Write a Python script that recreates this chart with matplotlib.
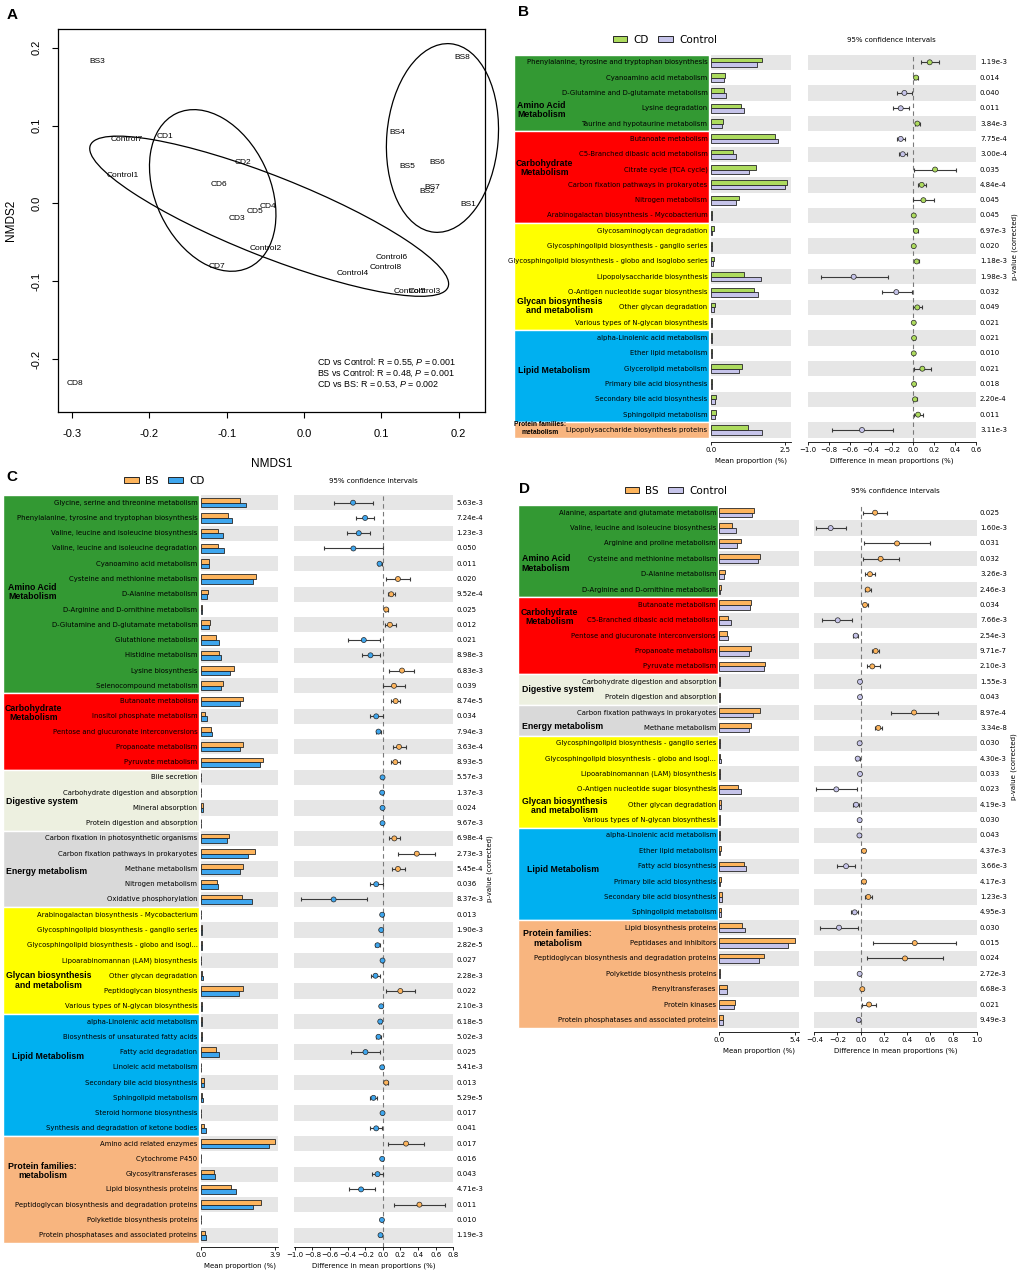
import numpy as np
import matplotlib
matplotlib.use("Agg")
import matplotlib.pyplot as plt
from matplotlib.patches import Ellipse, Rectangle, Patch
from matplotlib.transforms import blended_transform_factory

# ---------------- Panel A: NMDS ----------------
nmds_samples = ['BS1', 'BS2', 'BS3', 'BS4', 'BS5', 'BS6', 'BS7', 'BS8',
                'CD1', 'CD2', 'CD3', 'CD4', 'CD5', 'CD6', 'CD7', 'CD8',
                'Control1', 'Control2', 'Control3', 'Control4',
                'Control5', 'Control6', 'Control7', 'Control8']
nmds1 = [0.213, 0.159, -0.267, 0.120, 0.133, 0.172, 0.166, 0.205,
         -0.180, -0.079, -0.087, -0.047, -0.063, -0.110, -0.112, -0.296,
         -0.234, -0.049, 0.156, 0.063, 0.137, 0.113, -0.229, 0.106]
nmds2 = [-0.001, 0.0155, 0.182, 0.091, 0.048, 0.052, 0.021, 0.188,
         0.086, 0.052, -0.019, -0.004, -0.011, 0.024, -0.081, -0.231,
         0.036, -0.0575, -0.113, -0.0905, -0.113, -0.070, 0.0815, -0.083]
ellipse_groups = ['CD', 'Control', 'BS']
ellipse_cx = [-0.118, -0.045, 0.179]
ellipse_cy = [0.0166, -0.0165, 0.084]
ellipse_major = [0.219, 0.497, 0.243]
ellipse_minor = [0.148, 0.103, 0.144]
ellipse_angle = [-64.5, -21.5, 85.1]
anosim_text = ['CD vs Control: R = 0.55, $\\it{P}$ = 0.001',
               'BS vs Control: R = 0.48, $\\it{P}$ = 0.001',
               'CD vs BS: R = 0.53, $\\it{P}$ = 0.002']

# ---------------- Panel B: CD vs Control ----------------
b_features = ['Phenylalanine, tyrosine and tryptophan biosynthesis',
              'Cyanoamino acid metabolism',
              'D-Glutamine and D-glutamate metabolism',
              'Lysine degradation',
              'Taurine and hypotaurine metabolism',
              'Butanoate metabolism',
              'C5-Branched dibasic acid metabolism',
              'Citrate cycle (TCA cycle)',
              'Carbon fixation pathways in prokaryotes',
              'Nitrogen metabolism',
              'Arabinogalactan biosynthesis - Mycobacterium',
              'Glycosaminoglycan degradation',
              'Glycosphingolipid biosynthesis - ganglio series',
              'Glycosphingolipid biosynthesis - globo and isoglobo series',
              'Lipopolysaccharide biosynthesis',
              'O-Antigen nucleotide sugar biosynthesis',
              'Other glycan degradation',
              'Various types of N-glycan biosynthesis',
              'alpha-Linolenic acid metabolism',
              'Ether lipid metabolism',
              'Glycerolipid metabolism',
              'Primary bile acid biosynthesis',
              'Secondary bile acid biosynthesis',
              'Sphingolipid metabolism',
              'Lipopolysaccharide biosynthesis proteins']
b_cd = [1.70, 0.47, 0.43, 1.00, 0.41, 2.14, 0.73, 1.51, 2.56, 0.94, 0.03, 0.09, 0.02,
        0.10, 1.12, 1.45, 0.13, 0.02, 0.04, 0.02, 1.04, 0.03, 0.17, 0.16, 1.23]
b_control = [1.54, 0.43, 0.52, 1.12, 0.37, 2.24, 0.83, 1.29, 2.48, 0.84, 0.03, 0.05, 0.02,
             0.06, 1.69, 1.59, 0.09, 0.02, 0.03, 0.02, 0.94, 0.03, 0.15, 0.12, 1.72]
b_diff = [0.162, 0.032, -0.079, -0.114, 0.044, -0.114, -0.095, 0.213, 0.086, 0.102, 0.010,
          0.032, 0.010, 0.038, -0.562, -0.156, 0.044, 0.010, 0.013, 0.010, 0.092, 0.013,
          0.022, 0.051, -0.483]
b_ci_low = [0.076, 0.013, -0.152, -0.190, 0.022, -0.152, -0.133, 0.016, 0.050, 0.002, 0.005,
            0.016, 0.005, 0.019, -0.876, -0.289, 0.000, 0.005, 0.006, 0.005, 0.016, 0.006,
            0.010, 0.013, -0.768]
b_ci_high = [0.248, 0.054, -0.006, -0.035, 0.070, -0.070, -0.057, 0.410, 0.127, 0.206, 0.016,
             0.054, 0.016, 0.060, -0.238, -0.010, 0.092, 0.016, 0.020, 0.016, 0.171, 0.020,
             0.038, 0.100, -0.190]
b_pvalues = ['1.19e-3', '0.014', '0.040', '0.011', '3.84e-3', '7.75e-4', '3.00e-4', '0.035',
             '4.84e-4', '0.045', '0.045', '6.97e-3', '0.020', '1.18e-3', '1.98e-3', '0.032',
             '0.049', '0.021', '0.021', '0.010', '0.021', '0.018', '2.20e-4', '0.011', '3.11e-3']
b_categories = ['amino', 'carbo', 'glycan', 'lipid', 'protein']
b_category_sizes = [5, 6, 7, 6, 1]

# ---------------- Panel C: BS vs CD ----------------
c_features = ['Glycine, serine and threonine metabolism',
              'Phenylalanine, tyrosine and tryptophan biosynthesis',
              'Valine, leucine and isoleucine biosynthesis',
              'Valine, leucine and isoleucine degradation',
              'Cyanoamino acid metabolism',
              'Cysteine and methionine metabolism',
              'D-Alanine metabolism',
              'D-Arginine and D-ornithine metabolism',
              'D-Glutamine and D-glutamate metabolism',
              'Glutathione metabolism',
              'Histidine metabolism',
              'Lysine biosynthesis',
              'Selenocompound metabolism',
              'Butanoate metabolism',
              'Inositol phosphate metabolism',
              'Pentose and glucuronate interconversions',
              'Propanoate metabolism',
              'Pyruvate metabolism',
              'Bile secretion',
              'Carbohydrate digestion and absorption',
              'Mineral absorption',
              'Protein digestion and absorption',
              'Carbon fixation in photosynthetic organisms',
              'Carbon fixation pathways in prokaryotes',
              'Methane metabolism',
              'Nitrogen metabolism',
              'Oxidative phosphorylation',
              'Arabinogalactan biosynthesis - Mycobacterium',
              'Glycosphingolipid biosynthesis - ganglio series',
              'Glycosphingolipid biosynthesis - globo and isogl...',
              'Lipoarabinomannan (LAM) biosynthesis',
              'Other glycan degradation',
              'Peptidoglycan biosynthesis',
              'Various types of N-glycan biosynthesis',
              'alpha-Linolenic acid metabolism',
              'Biosynthesis of unsaturated fatty acids',
              'Fatty acid degradation',
              'Linoleic acid metabolism',
              'Secondary bile acid biosynthesis',
              'Sphingolipid metabolism',
              'Steroid hormone biosynthesis',
              'Synthesis and degradation of ketone bodies',
              'Amino acid related enzymes',
              'Cytochrome P450',
              'Glycosyltransferases',
              'Lipid biosynthesis proteins',
              'Peptidoglycan biosynthesis and degradation proteins',
              'Polyketide biosynthesis proteins',
              'Protein phosphatases and associated proteins']
c_bs = [2.03, 1.43, 0.87, 0.91, 0.40, 2.89, 0.38, 0.07, 0.49, 0.77, 0.93, 1.75, 1.17,
        2.22, 0.23, 0.54, 2.22, 3.24,
        0.02, 0.02, 0.12, 0.02,
        1.49, 2.85, 2.22, 0.82, 2.15,
        0.02, 0.03, 0.05, 0.02, 0.05, 2.22, 0.03,
        0.035, 0.035, 0.77, 0.02, 0.17, 0.035, 0.02, 0.17,
        3.87, 0.02, 0.66, 1.59, 3.17, 0.02, 0.23]
c_cd = [2.38, 1.64, 1.14, 1.22, 0.44, 2.71, 0.30, 0.05, 0.40, 0.96, 1.07, 1.52, 1.03,
        2.06, 0.30, 0.59, 2.03, 3.10,
        0.02, 0.02, 0.12, 0.02,
        1.36, 2.48, 2.03, 0.89, 2.69,
        0.02, 0.03, 0.07, 0.02, 0.10, 2.01, 0.03,
        0.05, 0.07, 0.96, 0.02, 0.14, 0.12, 0.02, 0.24,
        3.59, 0.02, 0.72, 1.82, 2.75, 0.02, 0.26]
c_diff = [-0.339, -0.202, -0.274, -0.335, -0.038, 0.171, 0.095, 0.038, 0.080, -0.217, -0.141, 0.217, 0.126,
          0.145, -0.076, -0.050, 0.183, 0.141,
          -0.004, -0.008, -0.004, -0.004,
          0.130, 0.385, 0.171, -0.076, -0.560,
          -0.008, -0.019, -0.061, -0.004, -0.084, 0.198, -0.019,
          -0.030, -0.050, -0.198, -0.008, 0.038, -0.107, -0.004, -0.076,
          0.263, -0.008, -0.061, -0.248, 0.415, -0.011, -0.027]
c_ci_low = [-0.560, -0.300, -0.404, -0.670, -0.061, 0.038, 0.061, 0.019, 0.023, -0.396, -0.236, 0.069, 0.004,
            0.095, -0.149, -0.080, 0.110, 0.088,
            -0.008, -0.012, -0.008, -0.008,
            0.065, 0.175, 0.099, -0.149, -0.933,
            -0.012, -0.025, -0.084, -0.008, -0.133, 0.038, -0.025,
            -0.042, -0.076, -0.366, -0.012, 0.019, -0.141, -0.008, -0.141,
            0.061, -0.012, -0.122, -0.389, 0.126, -0.016, -0.046]
c_ci_high = [-0.118, -0.103, -0.141, -0.002, -0.015, 0.305, 0.141, 0.057, 0.145, -0.038, -0.038, 0.354, 0.248,
             0.194, -0.004, -0.019, 0.259, 0.190,
             0.000, -0.004, 0.000, 0.000,
             0.194, 0.594, 0.251, -0.004, -0.179,
             -0.004, -0.013, -0.038, 0.000, -0.034, 0.362, -0.013,
             -0.019, -0.023, -0.030, -0.004, 0.057, -0.072, 0.000, -0.011,
             0.469, -0.004, -0.004, -0.095, 0.705, -0.006, -0.008]
c_pvalues = ['5.63e-3', '7.24e-4', '1.23e-3', '0.050', '0.011', '0.020', '9.52e-4', '0.025',
             '0.012', '0.021', '8.98e-3', '6.83e-3', '0.039', '8.74e-5', '0.034', '7.94e-3',
             '3.63e-4', '8.93e-5', '5.57e-3', '1.37e-3', '0.024', '9.67e-3', '6.98e-4',
             '2.73e-3', '5.45e-4', '0.036', '8.37e-3', '0.013', '1.90e-3', '2.82e-5', '0.027',
             '2.28e-3', '0.022', '2.10e-3', '6.18e-5', '5.02e-3', '0.025', '5.41e-3', '0.013',
             '5.29e-5', '0.017', '0.041', '0.017', '0.016', '0.043', '4.71e-3', '0.011',
             '0.010', '1.19e-3']
c_categories = ['amino', 'carbo', 'digestive', 'energy', 'glycan', 'lipid', 'protein']
c_category_sizes = [13, 5, 4, 5, 7, 8, 7]

# ---------------- Panel D: BS vs Control ----------------
d_features = ['Alanine, aspartate and glutamate metabolism',
              'Valine, leucine and isoleucine biosynthesis',
              'Arginine and proline metabolism',
              'Cysteine and methionine metabolism',
              'D-Alanine metabolism',
              'D-Arginine and D-ornithine metabolism',
              'Butanoate metabolism',
              'C5-Branched dibasic acid metabolism',
              'Pentose and glucuronate interconversions',
              'Propanoate metabolism',
              'Pyruvate metabolism',
              'Carbohydrate digestion and absorption',
              'Protein digestion and absorption',
              'Carbon fixation pathways in prokaryotes',
              'Methane metabolism',
              'Glycosphingolipid biosynthesis - ganglio series',
              'Glycosphingolipid biosynthesis - globo and isogl...',
              'Lipoarabinomannan (LAM) biosynthesis',
              'O-Antigen nucleotide sugar biosynthesis',
              'Other glycan degradation',
              'Various types of N-glycan biosynthesis',
              'alpha-Linolenic acid metabolism',
              'Ether lipid metabolism',
              'Fatty acid biosynthesis',
              'Primary bile acid biosynthesis',
              'Secondary bile acid biosynthesis',
              'Sphingolipid metabolism',
              'Lipid biosynthesis proteins',
              'Peptidases and inhibitors',
              'Peptidoglycan biosynthesis and degradation proteins',
              'Polyketide biosynthesis proteins',
              'Prenyltransferases',
              'Protein kinases',
              'Protein phosphatases and associated proteins']
d_bs = [2.45, 0.93, 1.55, 2.90, 0.43, 0.12,
        2.24, 0.64, 0.57, 2.26, 3.28,
        0.05, 0.05,
        2.90, 2.24,
        0.07, 0.07, 0.05, 1.36, 0.10, 0.05,
        0.05, 0.10, 1.78, 0.10, 0.21, 0.12,
        1.64, 5.40, 3.21, 0.05, 0.57, 1.09, 0.29]
d_control = [2.31, 1.19, 1.26, 2.74, 0.36, 0.07,
             2.19, 0.81, 0.64, 2.14, 3.19,
             0.05, 0.05,
             2.43, 2.09,
             0.07, 0.09, 0.05, 1.57, 0.12, 0.05,
             0.05, 0.07, 1.93, 0.07, 0.17, 0.14,
             1.81, 4.92, 2.81, 0.05, 0.55, 1.02, 0.29]
d_diff = [0.124, -0.259, 0.313, 0.172, 0.080, 0.060,
          0.037, -0.198, -0.043, 0.129, 0.100,
          -0.006, -0.006,
          0.460, 0.152,
          -0.009, -0.026, -0.006, -0.210, -0.040, -0.009,
          -0.011, 0.029, -0.126, 0.029, 0.066, -0.052,
          -0.187, 0.466, 0.382, -0.009, 0.014, 0.072, -0.017]
d_ci_low = [0.017, -0.382, 0.032, 0.017, 0.040, 0.034,
            0.017, -0.330, -0.063, 0.100, 0.052,
            -0.010, -0.010,
            0.261, 0.126,
            -0.013, -0.037, -0.010, -0.388, -0.063, -0.013,
            -0.016, 0.020, -0.201, 0.020, 0.034, -0.080,
            -0.350, 0.109, 0.055, -0.013, 0.006, 0.011, -0.026]
d_ci_high = [0.227, -0.124, 0.598, 0.328, 0.126, 0.089,
             0.060, -0.072, -0.023, 0.158, 0.167,
             -0.002, -0.002,
             0.664, 0.184,
             -0.005, -0.009, -0.002, -0.034, -0.017, -0.005,
             -0.006, 0.038, -0.049, 0.038, 0.100, -0.023,
             -0.020, 0.822, 0.710, -0.005, 0.022, 0.132, -0.008]
d_pvalues = ['0.025', '1.60e-3', '0.031', '0.032', '3.26e-3', '2.46e-3', '0.034', '7.66e-3',
             '2.54e-3', '9.71e-7', '2.10e-3', '1.55e-3', '0.043', '8.97e-4', '3.34e-8',
             '0.030', '4.30e-3', '0.033', '0.023', '4.19e-3', '0.030', '0.043', '4.37e-3',
             '3.66e-3', '4.17e-3', '1.23e-3', '4.95e-3', '0.030', '0.015', '0.024',
             '2.72e-3', '6.68e-3', '0.021', '9.49e-3']
d_categories = ['amino', 'carbo', 'digestive', 'energy', 'glycan', 'lipid', 'protein']
d_category_sizes = [6, 5, 2, 2, 6, 6, 7]

# ---------------- styling ----------------
W, H = 1020, 1274
CAT_COLORS = {'amino': '#339933', 'carbo': '#ff0000', 'digestive': '#edf0e0',
              'energy': '#d9d9d9', 'glycan': '#ffff00', 'lipid': '#00b0f0',
              'protein': '#f8b57f'}
CAT_TITLES = {'amino': 'Amino Acid\nMetabolism', 'carbo': 'Carbohydrate\nMetabolism',
              'digestive': 'Digestive system', 'energy': 'Energy metabolism',
              'glycan': 'Glycan biosynthesis\nand metabolism', 'lipid': 'Lipid Metabolism',
              'protein': 'Protein families:\nmetabolism'}
GREEN, LAVENDER, ORANGE, BLUE = '#addb5e', '#c6c4ea', '#fdb45c', '#3ea6ee'
BAND = '#e6e6e6'
EDGE = '#262626'
BOLD_FONT = 'Liberation Sans'
ROW_FONT = 4.95

plt.rcParams['font.family'] = 'DejaVu Sans'
plt.rcParams['mathtext.fontset'] = 'custom'
plt.rcParams['mathtext.rm'] = 'Liberation Sans'
plt.rcParams['mathtext.it'] = 'Liberation Sans:italic'

fig = plt.figure(figsize=(W / 100, H / 100), dpi=100)


def px_axes(left, top, right, bottom):
    return fig.add_axes([left / W, 1 - bottom / H, (right - left) / W, (bottom - top) / H])


# ---------------- draw panel A ----------------
axa = px_axes(58, 29, 485, 412)
for g, cx, cy, w, h, ang in zip(ellipse_groups, ellipse_cx, ellipse_cy,
                                ellipse_major, ellipse_minor, ellipse_angle):
    axa.add_patch(Ellipse((cx, cy), w, h, angle=ang, fill=False, edgecolor='black',
                          lw=0.9, clip_on=False))
for name, x, y in zip(nmds_samples, nmds1, nmds2):
    axa.text(x, y, name, ha='center', va='center', fontsize=6, family=BOLD_FONT)
for i, t in enumerate(anosim_text):
    axa.text(0.606, 0.131 - i * 0.0295, t, transform=axa.transAxes, ha='left', va='center',
             fontsize=6.4, family=BOLD_FONT)
axa.set_xlim(-0.318, 0.234)
axa.set_ylim(-0.268, 0.224)
xt = np.round(np.arange(-0.3, 0.21, 0.1), 1)
yt = np.round(np.arange(-0.2, 0.21, 0.1), 1)
axa.set_xticks(xt)
axa.set_xticklabels(['%.1f' % v for v in xt], family=BOLD_FONT, fontsize=8)
axa.set_yticks(yt)
axa.set_yticklabels(['%.1f' % v for v in yt], family=BOLD_FONT, fontsize=8,
                    rotation=90, va='center')
axa.tick_params(length=4, width=0.8, pad=8)
for s in axa.spines.values():
    s.set_linewidth(0.9)
axa.set_xlabel('NMDS1', family=BOLD_FONT, fontsize=8.5, labelpad=14)
axa.set_ylabel('NMDS2', family=BOLD_FONT, fontsize=8.5, labelpad=10)
fig.text(12.5 / W, 1 - 15 / H, 'A', fontsize=11, fontweight='bold', family=BOLD_FONT,
         ha='center', va='center')


# ---------------- STAMP-like panels ----------------
def stamp_panel(feats, g1, g2, diff, lo, hi, pvals, cats, sizes, names, colors, lay):
    n = len(feats)
    rows = np.arange(1, n + 1)
    diff, lo, hi = np.array(diff), np.array(lo), np.array(hi)
    dy = lay['dy']
    gap = 4.0
    top = lay['row1'] - dy / 2
    bottom = lay['row1'] + (n - 0.5) * dy + gap
    ylim = (n + 0.5 + gap / dy, 0.5)
    shaded = [r for r in rows if (n - r) % 2 == 0]

    # category column with feature names
    cl, cr = lay['cat']
    axc = px_axes(cl, top, cr, bottom)
    axc.set_xlim(cl, cr)
    axc.set_ylim(ylim)
    axc.axis('off')
    start = 1
    for c, size in zip(cats, sizes):
        axc.add_patch(Rectangle((cl, start - 0.5), cr - cl, size, facecolor=CAT_COLORS[c],
                                edgecolor='white', lw=1.0))
        start += size
    for r, f in zip(rows, feats):
        axc.text(cr - 1.5, r, f, ha='right', va='center', fontsize=ROW_FONT)
    for c, (lx, lr, fs) in zip(cats, lay['cat_labels']):
        axc.text(lx, lr, CAT_TITLES[c], ha='left', va='center', multialignment='center',
                 fontsize=fs, fontweight='bold', family=BOLD_FONT, linespacing=1.05)

    # mean proportion bars
    axb = px_axes(lay['bar'][0], top, lay['bar'][1], bottom)
    for r in shaded:
        axb.axhspan(r - 0.5, r + 0.5, color=BAND, lw=0, zorder=0)
    axb.barh(rows - 0.15, g1, height=0.3, color=colors[0], edgecolor=EDGE, lw=0.6, zorder=2)
    axb.barh(rows + 0.15, g2, height=0.3, color=colors[1], edgecolor=EDGE, lw=0.6, zorder=2)
    axb.set_xlim(0, lay['bar_max'])
    axb.set_ylim(ylim)
    axb.set_xticks([0, lay['bar_tick']])
    axb.set_xticklabels(['0.0', '%.1f' % lay['bar_tick']])
    axb.set_yticks([])
    axb.set_xlabel('Mean proportion (%)', fontsize=5, labelpad=3)

    # difference with confidence intervals
    axd = px_axes(lay['diff'][0], top, lay['diff'][1], bottom)
    for r in shaded:
        axd.axhspan(r - 0.5, r + 0.5, color=BAND, lw=0, zorder=0)
    axd.axvline(0, color='#7a7a7a', ls=(0, (4, 3)), lw=0.8, zorder=1)
    axd.errorbar(diff, rows, xerr=[diff - lo, hi - diff], fmt='none', ecolor='#3a3a3a',
                 elinewidth=0.8, capsize=1.6, capthick=0.8, zorder=2)
    mcol = [colors[0] if d > 0 else colors[1] for d in diff]
    axd.scatter(diff, rows, s=13, c=mcol, edgecolors=EDGE, linewidths=0.5, zorder=3)
    axd.set_xlim(lay['diff_lim'])
    axd.set_ylim(ylim)
    axd.set_xticks(np.round(np.arange(lay['diff_ticks'][0], lay['diff_ticks'][1] + 0.01, 0.2), 1))
    axd.set_yticks([])
    axd.set_xlabel('Difference in mean proportions (%)', fontsize=5, labelpad=3)
    axd.annotate('95% confidence intervals', xy=(0.5, 1), xycoords='axes fraction',
                 xytext=(0, 10.4), textcoords='offset points', ha='center', va='center',
                 fontsize=5)

    for ax in (axb, axd):
        for s in ('left', 'right', 'top'):
            ax.spines[s].set_visible(False)
        ax.spines['bottom'].set_linewidth(0.6)
        ax.tick_params(axis='x', labelsize=5, length=2.5, width=0.6, pad=1.5)

    width = lay['diff'][1] - lay['diff'][0]
    trans = blended_transform_factory(axd.transAxes, axd.transData)
    xp = 1 + (lay['p_x'] - lay['diff'][1]) / width
    for r, p in zip(rows, pvals):
        axd.text(xp, r, p, transform=trans, ha='left', va='center', fontsize=5)
    axd.text(1 + (lay['pv_x'] - lay['diff'][1]) / width, (n + 1) / 2, 'p-value (corrected)',
             transform=trans, rotation=90, ha='center', va='center', fontsize=5)

    handles = [Patch(facecolor=c, edgecolor=EDGE, lw=0.7) for c in colors]
    fig.legend(handles, names, loc='center',
               bbox_to_anchor=(lay['legend'][0] / W, 1 - lay['legend'][1] / H),
               ncol=2, frameon=False, fontsize=7.5, handlelength=1.4, handleheight=0.45,
               handletextpad=0.6, columnspacing=0.9, borderaxespad=0, borderpad=0)
    fig.text(lay['letter'][0] / W, 1 - lay['letter'][1] / H, lay['letter'][2], fontsize=11,
             fontweight='bold', family=BOLD_FONT, ha='center', va='center')


layout_b = dict(row1=62.3, dy=15.32, cat=(514, 709), bar=(711, 791), bar_max=2.69,
                bar_tick=2.5, diff=(807.7, 975.7), diff_lim=(-1.0, 0.6),
                diff_ticks=(-1.0, 0.6), p_x=980, pv_x=1015, legend=(665, 40),
                letter=(524, 12, 'B'),
                cat_labels=[(517, 4.1, 6.3), (516, 7.9, 6.3), (517, 16.9, 6.3),
                            (518, 21.1, 6.3), (514, 24.9, 4.8)])
layout_c = dict(row1=502.7, dy=15.26, cat=(3, 199), bar=(201, 278.3), bar_max=4.06,
                bar_tick=3.9, diff=(294, 453.3), diff_lim=(-1.01, 0.8),
                diff_ticks=(-1.0, 0.8), p_x=456.7, pv_x=490, legend=(164.5, 481),
                letter=(12, 477, 'C'),
                cat_labels=[(8, 6.85, 6.3), (5, 14.76, 6.3), (6, 20.6, 6.3), (6, 25.2, 6.3),
                            (6, 32.3, 6.3), (12, 37.3, 6.3), (8, 44.8, 6.3)])
layout_d = dict(row1=512.7, dy=15.37, cat=(518.3, 717.7), bar=(719.3, 798.7), bar_max=5.66,
                bar_tick=5.4, diff=(814.3, 976.7), diff_lim=(-0.4, 1.0),
                diff_ticks=(-0.4, 1.0), p_x=980, pv_x=1014, legend=(676, 490.7),
                letter=(524.5, 489.5, 'D'),
                cat_labels=[(521.7, 4.3, 6.3), (521, 7.8, 6.3), (522, 12.5, 6.3),
                            (522, 14.9, 6.3), (522, 20.1, 6.3), (527, 24.2, 6.3),
                            (523, 28.7, 6.3)])

stamp_panel(b_features, b_cd, b_control, b_diff, b_ci_low, b_ci_high, b_pvalues,
            b_categories, b_category_sizes, ['CD', 'Control'], [GREEN, LAVENDER], layout_b)
stamp_panel(c_features, c_bs, c_cd, c_diff, c_ci_low, c_ci_high, c_pvalues,
            c_categories, c_category_sizes, ['BS', 'CD'], [ORANGE, BLUE], layout_c)
stamp_panel(d_features, d_bs, d_control, d_diff, d_ci_low, d_ci_high, d_pvalues,
            d_categories, d_category_sizes, ['BS', 'Control'], [ORANGE, LAVENDER], layout_d)

fig.savefig('out.png', dpi=100)
